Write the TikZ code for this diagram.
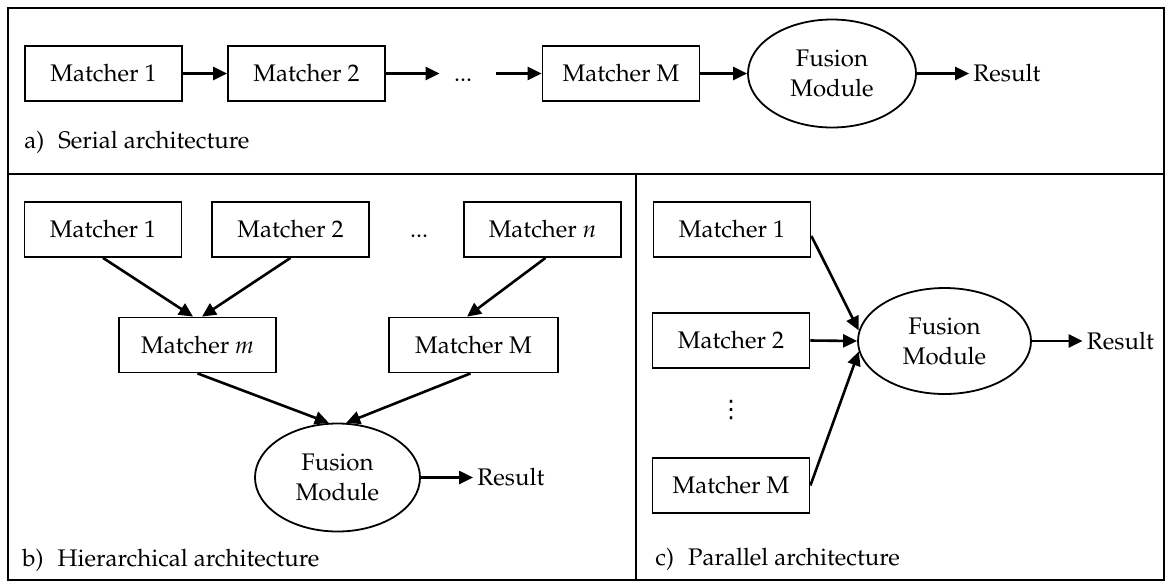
\documentclass[tikz,border=0pt]{standalone}
\usepackage{fontspec}
\usepackage[T1]{fontenc}
\usepackage{palatino}
\newfontfamily\dotsfont{DejaVu Sans}
\usepackage{tikz}
\usetikzlibrary{shapes.geometric, arrows.meta}

\begin{document}
\begin{tikzpicture}[x=0.5pt, y=-0.5pt, font=\fontsize{12}{15}\selectfont,
    box/.style={draw, line width=0.9pt, minimum width=78.5pt, minimum height=27.5pt, inner sep=0pt},
    fusion/.style={draw, ellipse, line width=0.9pt, minimum width=84pt, minimum height=54pt, inner sep=0pt, align=center},
    lbl/.style={anchor=base west, inner sep=0pt},
    res/.style={anchor=west, inner sep=2pt}]
    \useasboundingbox (0,0) rectangle (1171,585);

    % Khung
    \draw[line width=1pt] (7.5,7.5) rectangle (1163.5,580);
    \draw[line width=1pt] (7.5,174) -- (1163.5,174);
    \draw[line width=1pt] (636,174) -- (636,580);

    % a) Kiến trúc nối tiếp
    \node[box] (a1) at (103.5,73.5) {Matcher 1};
    \node[box] (a2) at (306.5,73.5) {Matcher 2};
    \node[inner xsep=7pt] (adots) at (463,73.5) {\vphantom{Matcher}...};
    \node[box] (a3) at (621,73.5) {Matcher M};
    \node[fusion] (af) at (832,73.5) {Fusion\\Module};
    \node[res] (ares) at (969,73.5) {Result};
    \node[lbl] (alb) at (24,148) {a)\hspace{7pt}Serial architecture};

    % b) Kiến trúc phân cấp
    \node[box] (b1) at (103,229.5) {Matcher 1};
    \node[box] (b2) at (290.5,229.5) {Matcher 2};
    \node (bdots) at (419,229.5) {\vphantom{Matcher}...};
    \node[box] (bn) at (542.5,229.5) {Matcher \textit{n}};
    \node[box] (bm) at (197.5,345) {Matcher \textit{m}};
    \node[box, minimum width=84.5pt] (bM) at (473.5,345) {Matcher M};
    \node[fusion, minimum width=82.5pt] (bf) at (337.5,477.5) {Fusion\\Module};
    \node[res] (bres) at (473,477.5) {Result};
    \node[lbl] (blb) at (22,566) {b)\hspace{7pt}Hierarchical architecture};

    % c) Kiến trúc song song
    \node[box] (c1) at (732,229.5) {Matcher 1};
    \node[box] (c2) at (731,340.5) {Matcher 2};
    \node (cdots) at (731,410) {\dotsfont ⋮};
    \node[box] (cM) at (731,485.5) {Matcher M};
    \node[fusion, minimum width=86.5pt, minimum height=53pt] (cf) at (944.5,341) {Fusion\\Module};
    \node[res] (cres) at (1082.5,341) {Result};
    \node[lbl] (clb) at (655,565) {c)\hspace{7pt}Parallel architecture};

    % Các mũi tên
    \begin{scope}[line width=1.3pt, >={Triangle[length=7pt,width=6.5pt]}]
    \draw [->] (a1) -- (a2);
    \draw [->] (a2) -- (adots);
    \draw [->, shorten <=5pt] (adots) -- (a3);
    \draw [->] (a3) -- (af);
    \draw [->] (af) -- (ares);

    \draw [->] (b1.south) -- ([xshift=-2.25pt]bm.north);
    \draw [->] (b2.south) -- ([xshift=2.25pt]bm.north);
    \draw [->] ([xshift=1.5pt]bn.south) -- ([xshift=-3.25pt]bM.north);
    \draw [->] (bm.south) -- (bf.99);
    \draw [->] ([xshift=-1.5pt]bM.south) -- (bf.81);
    \draw [->] (bf) -- (bres);

    \draw [->] ([yshift=-3.25pt]c1.east) -- (cf.173);
    \draw [->] (c2.east) -- (cf.west);
    \draw [->] (cM.east) -- (cf.187);
    \draw [->] (cf) -- (cres);
    \end{scope}
\end{tikzpicture}
\end{document}
